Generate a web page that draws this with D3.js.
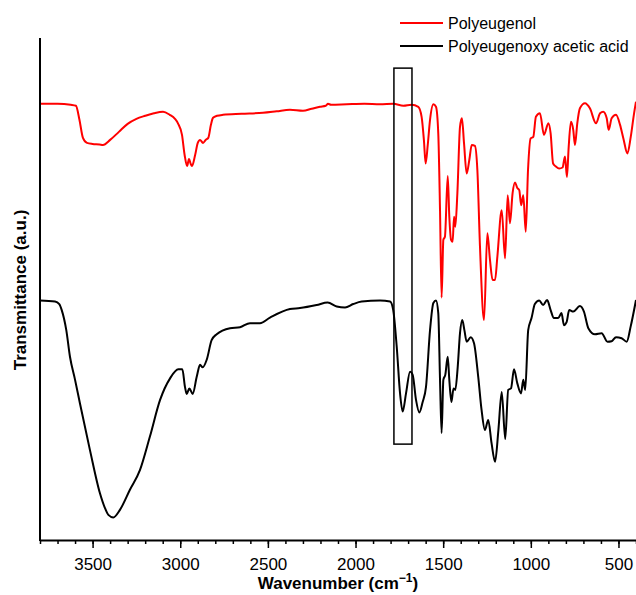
<!DOCTYPE html>
<html>
<head>
	<meta charset="utf-8">
	<title>FTIR spectra</title>
	<script src="https://cdn.jsdelivr.net/npm/d3@7"></script>
</head>
<style type="text/css">
	body { margin: 0; background: #fff; }
	text { font-family: "Liberation Sans", Arial, sans-serif; }
</style>
<body>
</body>
</html>
<script type="text/javascript">
	var width = 636;
	var height = 595;

	// wavenumbers (cm-1) and transmittance (a.u.)
	var polyWave = [3800,3700,3625,3595,3575,3555,3532,3500,3460,3441,3400,3350,3300,3250,3200,3150,3098,3060,3030,3013,2990,2975,2961,2950,2940,2933,2915,2900,2887,2870,2855,2840,2825,2813,2790,2756,2650,2528,2450,2374,2300,2250,2203,2170,2157,2140,2050,1950,1860,1785,1727,1680,1642,1623,1610,1600,1588,1575,1556,1541,1528,1518,1509,1499,1490,1474,1465,1455,1446,1438,1431,1419,1404,1393,1381,1366,1351,1337,1319,1305,1290,1267,1248,1233,1218,1204,1191,1166,1147,1132,1119,1104,1090,1077,1066,1055,1043,1029,1016,1001,986,971,948,925,900,887,873,857,838,819,805,794,784,771,758,748,735,720,691,663,628,605,587,567,556,539,514,491,472,449,430,411,400];
	var polyT = [86.9,86.9,86.7,86.5,83.7,80.1,79.1,78.9,78.8,78.7,79.7,81.3,82.9,83.9,84.5,85.0,85.3,84.7,83.9,83.0,80.7,76.7,74.5,75.9,74.9,74.5,76.7,79.1,79.7,79.1,79.7,80.1,82.7,84.1,84.5,84.7,84.9,85.1,85.4,85.7,85.5,85.9,86.3,86.5,86.9,86.7,86.8,86.9,86.8,86.9,86.5,86.7,86.3,84.3,79.7,75.0,78.7,83.7,86.8,86.3,81.0,65.7,48.3,59.8,60.4,72.5,64.4,59.8,59.4,64.4,62.4,69.1,82.3,84.0,79.0,73.0,75.7,78.7,78.5,73.7,58.4,43.8,61.1,55.8,51.8,51.8,56.4,65.7,56.1,68.7,63.1,69.1,71.2,70.1,69.7,66.7,68.7,61.4,73.7,80.0,80.3,84.3,85.0,80.7,83.0,81.0,75.0,74.4,74.0,74.2,76.4,72.3,78.3,83.3,81.7,78.7,83.0,86.0,87.0,86.0,83.0,85.0,85.3,84.0,81.7,84.0,84.7,82.7,80.0,77.0,80.3,85.0,87.3];

	var acidWave = [3800,3714,3690,3676,3650,3629,3600,3572,3515,3458,3430,3410,3382,3344,3287,3230,3173,3115,3058,3011,2988,2973,2963,2948,2929,2906,2887,2872,2849,2821,2792,2716,2659,2602,2545,2488,2374,2317,2222,2159,2107,2060,2013,1965,1860,1803,1785,1765,1746,1731,1712,1689,1674,1655,1636,1617,1598,1575,1556,1541,1528,1518,1509,1499,1488,1474,1465,1453,1441,1431,1417,1404,1391,1379,1366,1343,1324,1300,1281,1262,1243,1224,1204,1185,1166,1146,1129,1113,1096,1077,1056,1043,1032,1015,996,977,952,930,907,887,868,844,825,811,796,781,758,720,697,672,634,596,563,539,514,482,453,430,400];
	var acidT = [47.7,47.5,47.0,45.8,41.8,36.5,31.9,27.2,17.9,9.3,6.4,5.0,4.5,6.0,10.0,13.9,20.6,27.9,32.2,34.0,34.0,30.5,29.1,30.2,29.1,32.5,34.9,34.4,35.9,39.8,41.0,42.2,42.4,43.2,43.2,44.3,46.0,46.2,46.8,47.3,46.5,46.3,47.0,47.5,47.7,47.5,45.8,38.5,29.2,25.6,29.2,33.5,32.9,27.9,25.4,27.5,30.5,41.8,47.2,47.7,45.2,31.9,21.3,31.9,32.9,36.5,31.9,27.5,30.2,29.9,34.5,41.2,43.8,41.8,39.5,40.4,39.2,32.5,25.9,21.9,23.9,19.3,15.6,21.9,29.5,20.1,29.9,30.2,34.0,31.2,29.2,31.9,29.9,41.8,44.2,47.0,47.7,46.8,47.8,45.8,44.2,44.2,45.2,42.8,43.4,45.8,45.5,46.6,45.5,42.2,41.0,41.2,39.5,39.6,40.4,40.2,39.5,42.6,47.8];

	var seriesNames = ["Polyeugenol", "Polyeugenoxy acetic acid"];
	var seriesColors = ["#ff0000", "#000000"];

	var majorTicks = [3500, 3000, 2500, 2000, 1500, 1000, 500];
	var minorTicks = d3.range(3800, 399, -100);

	// highlighted C=O region
	var boxWave = [1781, 1678];
	var boxT = [19.1, 94.0];

	var svg = d3.select("body").append("svg").attr("width", width).attr("height", height);

	var x = d3.scaleLinear().domain([3800, 400]).range([40, 636]);
	var y = d3.scaleLinear().domain([0, 100]).range([540, 38]);

	var line = d3.line()
		.x(function(d){ return x(d[0]); })
		.y(function(d){ return y(d[1]); })
		.curve(d3.curveMonotoneX);

	var series = [d3.zip(polyWave, polyT), d3.zip(acidWave, acidT)];

	svg.selectAll("path.spec")
		.data(series)
		.enter()
		.append("path")
		.attr("class", "spec")
		.attr("d", line)
		.attr("fill", "none")
		.attr("stroke", function(d, i){ return seriesColors[i]; })
		.attr("stroke-width", 2)
		.attr("stroke-linejoin", "round");

	svg.append("rect")
		.attr("x", x(boxWave[0]))
		.attr("y", y(boxT[1]))
		.attr("width", x(boxWave[1]) - x(boxWave[0]))
		.attr("height", y(boxT[0]) - y(boxT[1]))
		.attr("fill", "none")
		.attr("stroke", "#000")
		.attr("stroke-width", 1.5);

	// x axis: minor ticks then major ticks with labels
	var gMinor = svg.append("g").attr("transform", "translate(0,540)")
		.call(d3.axisBottom(x).tickValues(minorTicks).tickSize(4).tickSizeOuter(0).tickFormat(""));
	gMinor.select(".domain").attr("stroke-width", 2);
	gMinor.selectAll(".tick line").attr("stroke-width", 1.5);

	var gMajor = svg.append("g").attr("transform", "translate(0,540)")
		.call(d3.axisBottom(x).tickValues(majorTicks).tickSize(8).tickSizeOuter(0).tickFormat(d3.format("d")));
	gMajor.select(".domain").remove();
	gMajor.selectAll(".tick line").attr("stroke-width", 1.5);
	gMajor.selectAll(".tick text")
		.attr("y", 30).attr("dy", 0)
		.style("font-size", "17px")
		.style("font-family", "'Liberation Sans', Arial, sans-serif")
		.attr("fill", "#000");

	// y axis: just a line, no ticks
	svg.append("line")
		.attr("x1", 40).attr("x2", 40)
		.attr("y1", y(0) + 1).attr("y2", y(100))
		.attr("stroke", "#000")
		.attr("stroke-width", 2);

	var xTitle = svg.append("text")
		.attr("x", 338).attr("y", 589)
		.attr("text-anchor", "middle")
		.style("font-size", "17px")
		.style("font-weight", "bold");
	xTitle.append("tspan").text("Wavenumber (cm");
	xTitle.append("tspan").attr("dy", -7).style("font-size", "12px").text("\u22121");
	xTitle.append("tspan").attr("dy", 7).text(")");

	svg.append("text")
		.attr("transform", "translate(26,290) rotate(-90)")
		.attr("text-anchor", "middle")
		.style("font-size", "17px")
		.style("font-weight", "bold")
		.text("Transmittance (a.u.)");

	// legend
	var legend = svg.selectAll("g.legend")
		.data(seriesNames)
		.enter()
		.append("g")
		.attr("class", "legend")
		.attr("transform", function(d, i){ return "translate(400," + (23 + i * 23) + ")"; });
	legend.append("line")
		.attr("x1", 0).attr("x2", 43)
		.attr("stroke", function(d, i){ return seriesColors[i]; })
		.attr("stroke-width", 2);
	legend.append("text")
		.attr("x", 48).attr("y", 5.5)
		.style("font-size", "16px")
		.text(function(d){ return d; });
</script>
